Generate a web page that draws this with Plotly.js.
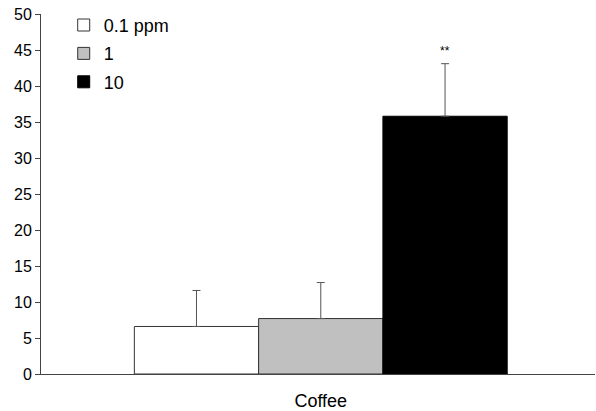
<!DOCTYPE html>
<html>
<head>
<meta charset="utf-8">
<script src="https://cdn.plot.ly/plotly-3.0.1.min.js"></script>
<style>html,body{margin:0;padding:0;background:#fff;}#chart{width:596px;height:411px;}</style>
</head>
<body>
<div id="chart"></div>
<script>
const categories = ["Coffee"];
const seriesNames = ["0.1 ppm", "1", "10"];
const seriesValues = [[6.6], [7.7], [35.8]];
const seriesErrors = [[5.0], [5.0], [7.3]];
const seriesColors = ["#ffffff", "#c0c0c0", "#000000"];
const annotationText = "**";
const annotationY = 44.8;
const yTicks = [0, 5, 10, 15, 20, 25, 30, 35, 40, 45, 50];

const traces = seriesNames.map((name, i) => ({
  type: "bar",
  name: name,
  x: categories,
  y: seriesValues[i],
  legendgroup: "g" + i,
  marker: { color: seriesColors[i], line: { color: i === 2 ? "#000" : "#333", width: 1 } },
  error_y: { type: "data", symmetric: false, array: seriesErrors[i], arrayminus: [0], color: "#555", thickness: 1, width: 4 }
}));

const layout = {
  width: 596, height: 411,
  margin: { l: 41, r: 1, t: 14, b: 37 },
  paper_bgcolor: "#fff", plot_bgcolor: "#fff",
  font: { family: "Liberation Sans, Arial, sans-serif", size: 16, color: "#000" },
  barmode: "group", bargap: 0.327, bargroupgap: 0,
  showlegend: true,
  legend: { x: 0.041, y: 1.02, xanchor: "left", yanchor: "top", traceorder: "grouped", tracegroupgap: 2,
            font: { size: 18 }, bgcolor: "rgba(0,0,0,0)" },
  xaxis: { range: [-0.505, 0.495], showline: true, linecolor: "#444", linewidth: 1,
           tickfont: { size: 18 },
           ticks: "outside", ticklen: 10, tickcolor: "rgba(0,0,0,0)", showgrid: false, zeroline: false, fixedrange: true },
  yaxis: { range: [0, 50], tickvals: yTicks, showline: true, linecolor: "#444", linewidth: 1,
           ticks: "outside", ticklen: 5, tickcolor: "#444", showgrid: false, zeroline: false, fixedrange: true },
  annotations: [{ x: 0.224, y: annotationY, xref: "x", yref: "y", text: annotationText, showarrow: false, font: { size: 12 } }]
};

Plotly.newPlot("chart", traces, layout, { displayModeBar: false, staticPlot: true });
</script>
</body>
</html>
